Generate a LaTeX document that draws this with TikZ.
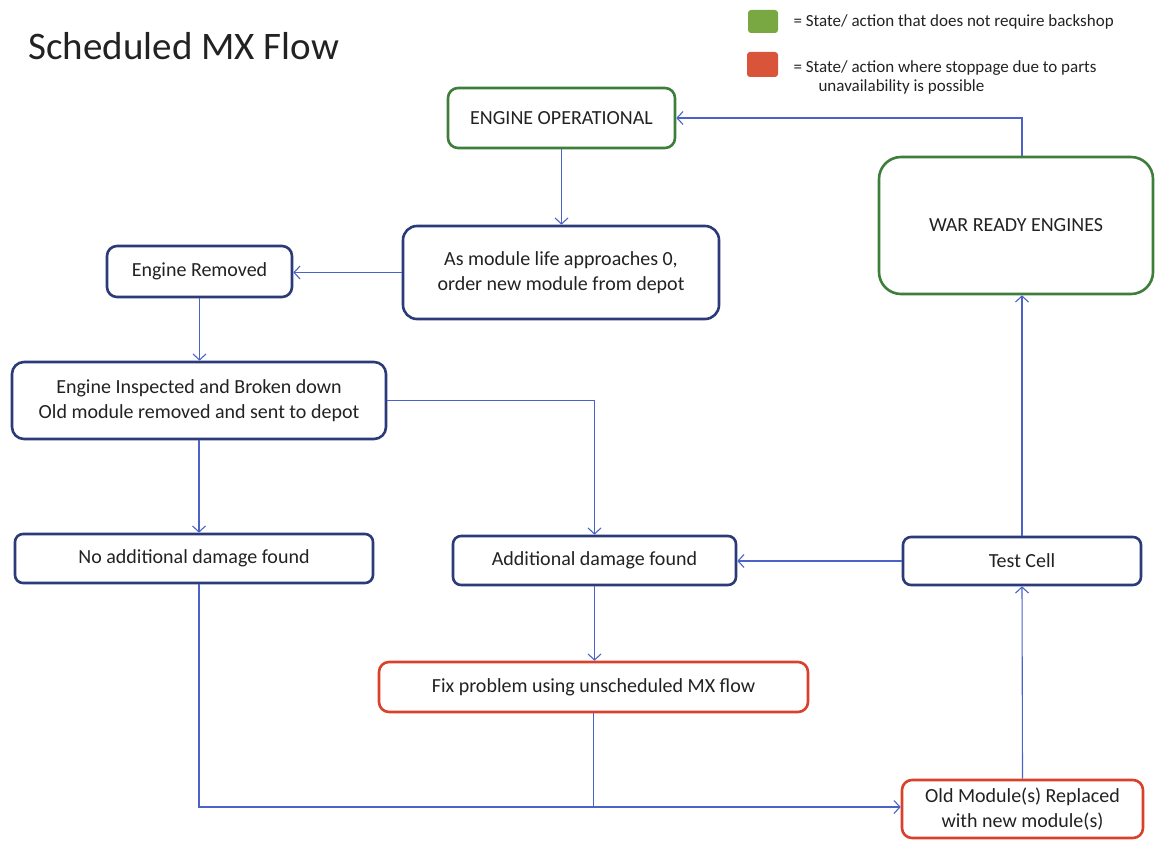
\documentclass[tikz,border=0pt]{standalone}
\usepackage{fontspec}
\setmainfont{Carlito}
\usetikzlibrary{arrows.meta}
\definecolor{gbord}{HTML}{3E7D3A}
\definecolor{nbord}{HTML}{2B3A78}
\definecolor{rbord}{HTML}{D9412B}
\definecolor{lgreen}{HTML}{79A843}
\definecolor{lred}{HTML}{D9553A}
\definecolor{conn}{HTML}{4B63C9}
\definecolor{txt}{HTML}{222222}
\tikzset{
  box/.style={draw, line width=2.6pt, rounded corners=10pt, fill=white, align=center,
    inner sep=0pt, font=\fontsize{20}{25}\selectfont, text=txt},
  gbox/.style={box, draw=gbord},
  nbox/.style={box, draw=nbord},
  rbox/.style={box, draw=rbord},
  conn/.style={draw=conn, line width=1.1pt, -{Straight Barb[length=6pt,width=13pt,line width=1.1pt]}},
  connn/.style={draw=conn, line width=1.1pt},
}
\begin{document}
\begin{tikzpicture}[x=1pt,y=-1pt]
\useasboundingbox (0,0) rectangle (1155,840);
% title
\node[anchor=west, font=\fontsize{39}{44}\selectfont, text=txt] (title) at (25,46) {Scheduled MX Flow};
% legend
\node[fill=lgreen, rounded corners=3pt, minimum width=30pt, minimum height=23pt, inner sep=0pt] (lg) at (763,21.5) {};
\node[fill=lred, rounded corners=3pt, minimum width=31pt, minimum height=25pt, inner sep=0pt] (lr) at (762.5,64.5) {};
\node[anchor=west, font=\fontsize{17}{20}\selectfont, text=txt] (lgt) at (790,22) {= State/ action that does not require backshop};
\node[anchor=north west, align=left, font=\fontsize{17}{19.5}\selectfont, text=txt] (lrt) at (790,57) {= State/ action where stoppage due to parts\\\hspace*{25pt}unavailability is possible};
% boxes
\node[gbox, minimum width=227pt, minimum height=60pt] (eo) at (561.5,118) {ENGINE OPERATIONAL};
\node[nbox, minimum width=316pt, minimum height=93pt, rounded corners=14pt] (am) at (561,272.5) {As module life approaches 0,\\order new module from depot};
\node[gbox, minimum width=274pt, minimum height=137pt, rounded corners=22pt] (war) at (1016,225.5) {WAR READY ENGINES};
\node[nbox, minimum width=185pt, minimum height=51pt] (er) at (199.5,271.5) {Engine Removed};
\node[nbox, minimum width=374pt, minimum height=77pt, rounded corners=12pt] (ei) at (199,400.5) {Engine Inspected and Broken down\\Old module removed and sent to depot};
\node[nbox, minimum width=358pt, minimum height=49pt, rounded corners=8pt] (na) at (194,558.5) {No additional damage found};
\node[nbox, minimum width=283pt, minimum height=49pt, rounded corners=8pt] (ad) at (594.5,560.5) {Additional damage found};
\node[nbox, minimum width=238pt, minimum height=48pt, rounded corners=8pt] (tc) at (1022,561) {Test Cell};
\node[rbox, minimum width=429pt, minimum height=50pt] (fp) at (593.5,687) {Fix problem using unscheduled MX flow};
\node[rbox, minimum width=241pt, minimum height=58pt] (om) at (1022.5,809) {Old Module(s) Replaced\\with new module(s)};
% connectors
\draw[conn] (eo.south) -- (eo.south |- am.north);
\draw[conn] (am.west) -- (er.east |- am.west);
\draw[conn] (er.south) -- (er.south |- ei.north);
\draw[conn] (ei.south) -- (ei.south |- na.north);
\draw[conn] (ei.east) -| (ad.north);
\draw[conn] (tc.west) -- (ad.east |- tc.west);
\draw[conn] (ad.south) -- (ad.south |- fp.north);
\coordinate (j) at (fp.south |- 0,807);
\draw[conn] (ei.south |- na.south) |- (om.west |- j);
\draw[connn] (fp.south) -- (j);
\draw[conn] (om.north) -- (tc.south);
\draw[conn] (tc.north) -- (tc.north |- war.south);
\draw[conn] (tc.north |- war.north) |- (eo.east);
\end{tikzpicture}
\end{document}
